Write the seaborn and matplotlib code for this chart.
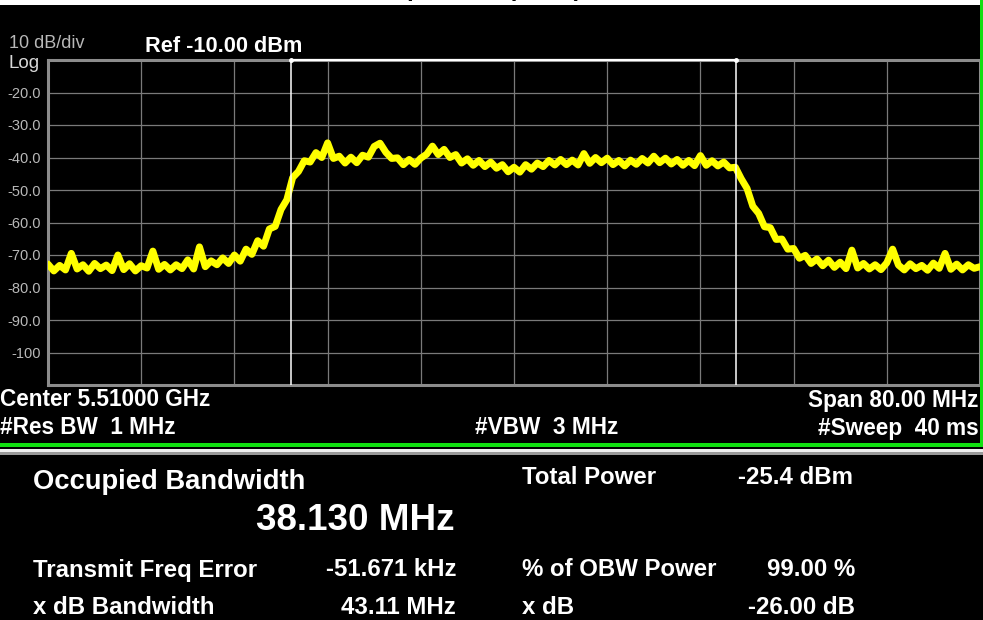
import numpy as np
import matplotlib
matplotlib.use("Agg")
import matplotlib.pyplot as plt
from matplotlib.patches import Rectangle
import seaborn as sns

# analyzer settings
center_ghz = 5.51
span_mhz = 80.0
ref_dbm = -10.0
db_per_div = 10
obw_mhz = 38.130
freq_err_khz = -51.671

# trace, one point every 0.5 MHz from 5.470 to 5.550 GHz
trace_dbm = [
    -72.8, -74.9, -73.2, -74.6, -69.5, -74.3, -73.0, -75.0, -72.6, -74.2,
    -73.1, -74.8, -70.0, -74.5, -72.7, -74.9, -73.3, -74.0, -68.8, -74.4,
    -72.9, -74.6, -73.0, -74.2, -71.5, -74.3, -67.5, -73.6, -71.8, -73.0,
    -70.9, -72.6, -70.0, -71.9, -68.2, -69.8, -65.6, -67.3, -62.0, -61.2,
    -56.0, -53.0, -46.2, -44.3, -41.0, -41.4, -38.5, -40.0, -35.5, -40.3,
    -39.6, -41.7, -39.9, -41.6, -39.3, -39.9, -36.6, -35.6, -38.4, -40.3,
    -40.1, -42.2, -40.6, -42.1, -40.2, -39.0, -36.5, -39.1, -37.5, -40.0,
    -39.1, -41.7, -40.4, -42.4, -40.9, -42.8, -41.4, -43.3, -42.2, -44.4,
    -43.0, -44.5, -42.2, -43.6, -41.7, -42.8, -40.9, -42.3, -40.6, -42.2,
    -40.8, -42.3, -38.8, -41.8, -40.0, -41.6, -40.2, -42.2, -40.9, -42.6,
    -40.8, -42.1, -40.3, -41.7, -39.6, -41.6, -40.2, -42.0, -40.6, -42.4,
    -40.9, -42.5, -39.4, -42.4, -41.0, -42.6, -41.4, -43.2, -43.0, -46.5,
    -49.5, -55.0, -57.2, -61.3, -61.6, -65.2, -65.1, -68.2, -68.0, -71.0,
    -70.1, -72.6, -71.2, -73.3, -71.6, -73.8, -72.2, -74.2, -68.5, -74.0,
    -72.6, -74.3, -73.0, -74.5, -72.4, -68.2, -73.1, -74.6, -72.7, -74.2,
    -73.2, -74.7, -72.5, -74.1, -69.5, -74.4, -72.8, -74.6, -73.0, -74.1,
    -73.6,
]

y_ticks = [-100, -90, -80, -70, -60, -50, -40, -30, -20]
y_tick_labels = ["-100", "-90.0", "-80.0", "-70.0", "-60.0", "-50.0", "-40.0", "-30.0", "-20.0"]

footer_left = ["Center 5.51000 GHz", "#Res BW  1 MHz"]
footer_mid = "#VBW  3 MHz"
footer_right = ["Span 80.00 MHz", "#Sweep  40 ms"]

result_names = ["Transmit Freq Error", "x dB Bandwidth"]
result_values = ["-51.671 kHz", "43.11 MHz"]
result_names2 = ["Total Power", "% of OBW Power", "x dB"]
result_values2 = ["-25.4 dBm", "99.00 %", "-26.00 dB"]

sns.set_style("dark")
plt.rcParams['font.family'] = ['Liberation Sans', 'DejaVu Sans']

W, H = 983, 620
fig = plt.figure(figsize=(W / 100, H / 100), dpi=100, facecolor="black")


def put(x, y, s, **kw):
    kw.setdefault("color", "white")
    kw.setdefault("va", "center")
    fig.text(x / W, 1 - y / H, s, **kw)


# screen furniture
fig.patches.append(Rectangle((0, 1 - 5 / H), 1, 5 / H, transform=fig.transFigure,
                             facecolor="white", edgecolor="none", zorder=0))
fig.patches.append(Rectangle((980 / W, 1 - 446 / H), 3 / W, 446 / H, transform=fig.transFigure,
                             facecolor="#10e010", edgecolor="none", zorder=1))
fig.patches.append(Rectangle((0, 1 - 447 / H), 1, 4 / H, transform=fig.transFigure,
                             facecolor="#10e010", edgecolor="none", zorder=1))
fig.patches.append(Rectangle((0, 1 - 452 / H), 1, 3 / H, transform=fig.transFigure,
                             facecolor="#f0f0f0", edgecolor="none", zorder=1))
fig.patches.append(Rectangle((0, 1 - 455 / H), 1, 3 / H, transform=fig.transFigure,
                             facecolor="#9a9a9a", edgecolor="none", zorder=1))
# screen title, cut off by the top edge of the screenshot
put(465, 1, "Occupied BW (OBW)", color="black", ha="center", va="bottom",
    fontsize=17, fontweight="bold")

ax = fig.add_axes([48 / W, 1 - 385 / H, 932 / W, 325 / H])
ax.set_facecolor("black")

start = center_ghz - span_mhz / 2000
stop = center_ghz + span_mhz / 2000
freq_ghz = np.linspace(start, stop, len(trace_dbm))

sns.lineplot(x=freq_ghz, y=trace_dbm, ax=ax, color="#ffff00", linewidth=5.0,
             estimator=None, sort=False, zorder=3)

# OBW markers
f_mid = center_ghz + freq_err_khz / 1e6
m1 = f_mid - obw_mhz / 2000
m2 = f_mid + obw_mhz / 2000
for m in (m1, m2):
    ax.axvline(m, color="white", lw=1.1, zorder=4)
ax.plot([m1, m2], [ref_dbm, ref_dbm], color="white", lw=1.6, marker="o", ms=2.5,
        clip_on=False, zorder=6)

ax.set_xlim(start, stop)
ax.set_ylim(ref_dbm - 10 * db_per_div, ref_dbm)
ax.set_xticks(np.linspace(start, stop, 11))
ax.set_xticklabels([])
ax.set_yticks(y_ticks)
ax.set_yticklabels(y_tick_labels)
ax.tick_params(axis="x", length=0)
ax.tick_params(axis="y", length=0, pad=5, labelsize=10.5, labelcolor="#b8b8b8")
ax.grid(True, color="#7a7a7a", lw=0.9)
ax.set_xlabel("")
ax.set_ylabel("")
for s in ax.spines.values():
    s.set_visible(True)
    s.set_color("#8c8c8c")
    s.set_linewidth(2.2)

put(9, 44, "10 dB/div", color="#b8b8b8", fontsize=13)
put(8, 64, "Log", color="#d8d8d8", fontsize=13.5)
put(145, 47, "Ref -10.00 dBm", fontsize=15.7, fontweight="bold")

put(0, 400, footer_left[0], fontsize=16.3, fontweight="bold")
put(0, 428, footer_left[1], fontsize=16.3, fontweight="bold")
put(475, 428, footer_mid, fontsize=16.3, fontweight="bold")
put(979, 400, footer_right[0], ha="right", fontsize=16.3, fontweight="bold")
put(979, 428, footer_right[1], ha="right", fontsize=16.3, fontweight="bold")

# results panel
put(33, 482, "Occupied Bandwidth", fontsize=19.7, fontweight="bold")
put(455, 520, f"{obw_mhz:.3f} MHz", ha="right", fontsize=26.5, fontweight="bold")
for i, (n, v) in enumerate(zip(result_names, result_values)):
    y = 570 + 38 * i
    put(33, y, n, fontsize=17.3, fontweight="bold")
    put(456, y, v, ha="right", fontsize=17.3, fontweight="bold")
put(522, 478, result_names2[0], fontsize=17.3, fontweight="bold")
put(738, 478, result_values2[0], fontsize=17.3, fontweight="bold")
for i, (n, v) in enumerate(zip(result_names2[1:], result_values2[1:])):
    y = 570 + 38 * i
    put(522, y, n, fontsize=17.3, fontweight="bold")
    put(855, y, v, ha="right", fontsize=17.3, fontweight="bold")

fig.savefig("out.png", dpi=100, facecolor="black")
